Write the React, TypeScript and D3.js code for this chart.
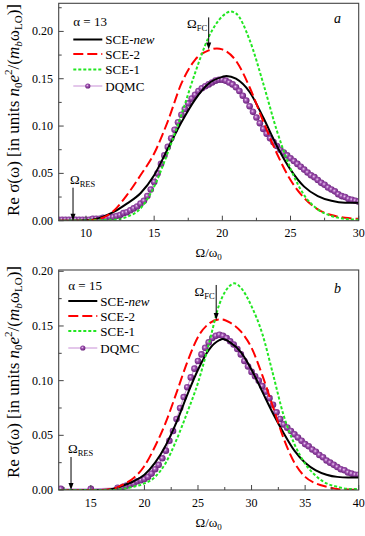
import React from 'react';
import * as d3 from 'd3';

const FONT = '"Liberation Serif", "Times New Roman", Times, serif';
const W = 365;
const H = 536;
const PLOT_L = 58.7;
const PLOT_R = 358.7;

// ---- panel a, alpha = 13 ----
const aNewX = [8, 10, 11, 12, 13, 14, 15, 16, 17, 18, 19, 20, 20.3, 21, 22, 23, 24, 25, 26, 27, 28, 29, 30];
const aNewY = [0, 0.0005, 0.003, 0.009, 0.018, 0.029, 0.048, 0.076, 0.104, 0.128, 0.145, 0.152, 0.153, 0.15, 0.136, 0.109, 0.079, 0.054, 0.036, 0.026, 0.021, 0.019, 0.019];
const aSce2X = [8, 10, 11, 12, 13, 14, 15, 16, 17, 18, 19, 19.6, 20, 21, 22, 23, 24, 25, 26, 27, 28, 29, 30];
const aSce2Y = [0, 0, 0.002, 0.01, 0.027, 0.048, 0.071, 0.105, 0.145, 0.17, 0.18, 0.182, 0.181, 0.169, 0.141, 0.105, 0.071, 0.043, 0.024, 0.012, 0.006, 0.003, 0.002];
const aSce1X = [8, 12, 13, 14, 15, 16, 17, 18, 19, 20, 20.6, 21, 22, 23, 24, 25, 26, 27, 28, 29, 30];
const aSce1Y = [0, 0.001, 0.004, 0.013, 0.036, 0.072, 0.112, 0.156, 0.194, 0.216, 0.221, 0.219, 0.191, 0.145, 0.095, 0.055, 0.027, 0.012, 0.005, 0.002, 0.001];
const aDqmcX = [
  8, 8.25, 8.5, 8.75, 9, 9.25, 9.5, 9.75, 10, 10.25, 10.5, 10.75, 11, 11.25, 11.5, 11.75,
  12, 12.25, 12.5, 12.75, 13, 13.25, 13.5, 13.75, 14, 14.25, 14.5, 14.75, 15, 15.25, 15.5, 15.75,
  16, 16.25, 16.5, 16.75, 17, 17.25, 17.5, 17.75, 18, 18.25, 18.5, 18.75, 19, 19.25, 19.5, 19.75,
  20, 20.25, 20.5, 20.75, 21, 21.25, 21.5, 21.75, 22, 22.25, 22.5, 22.75, 23, 23.25, 23.5, 23.75,
  24, 24.25, 24.5, 24.75, 25, 25.25, 25.5, 25.75, 26, 26.25, 26.5, 26.75, 27, 27.25, 27.5, 27.75,
  28, 28.25, 28.5, 28.75, 29, 29.25, 29.5, 29.75, 30,
];
const aDqmcY = [
  0.001, 0.001, 0.001, 0.001, 0.001, 0.001, 0.001, 0.001, 0.001, 0.001, 0.002, 0.002, 0.002, 0.003, 0.003, 0.004,
  0.004, 0.005, 0.006, 0.008, 0.009, 0.011, 0.013, 0.015, 0.018, 0.021, 0.026, 0.033, 0.041, 0.05, 0.06, 0.069,
  0.078, 0.087, 0.096, 0.104, 0.112, 0.118, 0.124, 0.129, 0.133, 0.137, 0.14, 0.142, 0.144, 0.146, 0.148, 0.149,
  0.149, 0.148, 0.146, 0.144, 0.141, 0.137, 0.132, 0.127, 0.121, 0.115, 0.109, 0.103, 0.097, 0.092, 0.087, 0.083,
  0.079, 0.075, 0.072, 0.069, 0.066, 0.063, 0.06, 0.057, 0.054, 0.051, 0.048, 0.046, 0.043, 0.04, 0.038, 0.035,
  0.033, 0.031, 0.028, 0.026, 0.025, 0.023, 0.022, 0.021, 0.02,
];

// ---- panel b, alpha = 15 ----
const bNewX = [12, 16, 17, 18, 19, 20, 21, 22, 23, 24, 25, 26, 27, 27.3, 28, 29, 30, 31, 32, 33, 34, 35, 36, 37, 38, 39, 40];
const bNewY = [0, 0, 0.001, 0.004, 0.008, 0.014, 0.025, 0.041, 0.062, 0.087, 0.11, 0.128, 0.137, 0.138, 0.135, 0.126, 0.11, 0.09, 0.07, 0.052, 0.036, 0.025, 0.018, 0.014, 0.012, 0.0115, 0.0115];
const bSce2X = [12, 16, 17, 18, 19, 20, 21, 22, 23, 24, 25, 26, 27, 27.2, 28, 29, 30, 31, 32, 33, 34, 35, 36, 37, 38, 39, 40];
const bSce2Y = [0, 0, 0.001, 0.005, 0.011, 0.022, 0.04, 0.062, 0.089, 0.117, 0.14, 0.152, 0.156, 0.156, 0.153, 0.145, 0.13, 0.105, 0.076, 0.047, 0.025, 0.012, 0.006, 0.003, 0.001, 0.0005, 0];
const bSce1X = [12, 17, 18, 19, 20, 21, 22, 23, 24, 25, 26, 27, 28, 28.4, 29, 30, 31, 32, 33, 34, 35, 36, 37, 38, 39, 40];
const bSce1Y = [0, 0, 0.001, 0.003, 0.006, 0.012, 0.025, 0.046, 0.071, 0.098, 0.133, 0.17, 0.187, 0.189, 0.185, 0.168, 0.143, 0.106, 0.068, 0.042, 0.024, 0.013, 0.006, 0.003, 0.001, 0.001];
const bDqmcX = [
  12.2, 15, 17.5,
  18, 18.33, 18.67, 19, 19.33, 19.67, 20, 20.33, 20.67, 21, 21.33, 21.67, 22, 22.33, 22.67,
  23, 23.33, 23.67, 24, 24.33, 24.67, 25, 25.33, 25.67, 26, 26.33, 26.67, 27, 27.33, 27.67,
  28, 28.33, 28.67, 29, 29.33, 29.67, 30, 30.33, 30.67, 31, 31.33, 31.67, 32, 32.33, 32.67,
  33, 33.33, 33.67, 34, 34.33, 34.67, 35, 35.33, 35.67, 36, 36.33, 36.67, 37, 37.33, 37.67,
  38, 38.33, 38.67, 39, 39.33, 39.67, 40,
];
const bDqmcY = [
  0.001, 0.001, 0.002,
  0.003, 0.004, 0.005, 0.006, 0.008, 0.009, 0.01, 0.012, 0.015, 0.019, 0.023, 0.029, 0.036, 0.045, 0.054,
  0.065, 0.075, 0.085, 0.094, 0.103, 0.111, 0.118, 0.124, 0.13, 0.135, 0.139, 0.141, 0.142, 0.141, 0.139,
  0.136, 0.133, 0.129, 0.124, 0.118, 0.113, 0.108, 0.104, 0.1, 0.095, 0.09, 0.084, 0.078, 0.071, 0.065,
  0.06, 0.057, 0.054, 0.051, 0.048, 0.045, 0.042, 0.04, 0.037, 0.035, 0.032, 0.03, 0.027, 0.025, 0.023,
  0.021, 0.019, 0.018, 0.016, 0.015, 0.014, 0.014,
];

// ticks
const aXTicks = [10, 15, 20, 25, 30];
const aXMinor = [12.5, 17.5, 22.5, 27.5];
const bXTicks = [15, 20, 25, 30, 35, 40];
const bXMinor = [12.5, 17.5, 22.5, 27.5, 32.5, 37.5];
const yTicks = [0, 0.05, 0.1, 0.15, 0.2];
const aYMinor = [0.025, 0.075, 0.125, 0.175, 0.225];
const bYMinor = [0.025, 0.075, 0.125, 0.175];

const legendNames = ['SCE-', 'SCE-2', 'SCE-1', 'DQMC'];

const zip = (xs: number[], ys: number[]) => xs.map((v, i) => [v, ys[i]] as [number, number]);

function Ball({ cx, cy }: { cx: number; cy: number }) {
  return <circle cx={cx} cy={cy} r={3.3} fill="url(#ball)" />;
}

function Panel(p: any) {
  const x = d3.scaleLinear().domain(p.xDomain).range([PLOT_L, PLOT_R]);
  const y = d3.scaleLinear().domain([0, p.yMax]).range([p.bottom, p.top]);
  const smooth = d3.line<[number, number]>().x(d => x(d[0])).y(d => y(d[1])).curve(d3.curveMonotoneX);
  const straight = d3.line<[number, number]>().x(d => x(d[0])).y(d => y(d[1]));
  const dq = zip(p.dqmc[0], p.dqmc[1]);
  const clip = `clip-${p.id}`;
  const fcX = x(p.fc[0]);
  const fcTip = y(p.fc[1]);
  const resX = x(p.res);
  const lg = p.legend;

  return (
    <g>
      <clipPath id={clip}>
        <rect x={PLOT_L} y={p.top} width={PLOT_R - PLOT_L} height={p.bottom - p.top} />
      </clipPath>

      <g clipPath={`url(#${clip})`}>
        <path d={straight(dq) || ''} fill="none" stroke="#c88fd6" strokeWidth={1} />
        {dq.map((d, i) => <Ball key={i} cx={x(d[0])} cy={y(d[1])} />)}
        <path d={smooth(zip(p.newc[0], p.newc[1])) || ''} fill="none" stroke="#000" strokeWidth={2} />
        <path d={smooth(zip(p.sce2[0], p.sce2[1])) || ''} fill="none" stroke="#ff0000" strokeWidth={2} strokeDasharray="10,4" />
        <path d={smooth(zip(p.sce1[0], p.sce1[1])) || ''} fill="none" stroke="#22e622" strokeWidth={2} strokeDasharray="3,2" />
      </g>

      <rect x={PLOT_L} y={p.top} width={PLOT_R - PLOT_L} height={p.bottom - p.top} fill="none" stroke="#444" strokeWidth={1.1} />

      {p.xTicks.map((t: number) => (
        <g key={'xt' + t}>
          <line x1={x(t)} x2={x(t)} y1={p.bottom} y2={p.bottom - 5} stroke="#444" />
          <text x={x(t)} y={p.bottom + 16.5} textAnchor="middle" fontSize={12}>{t}</text>
        </g>
      ))}
      {p.xMinor.map((t: number) => (
        <line key={'xm' + t} x1={x(t)} x2={x(t)} y1={p.bottom} y2={p.bottom - 3} stroke="#444" />
      ))}
      {yTicks.map(t => (
        <g key={'yt' + t}>
          <line x1={PLOT_L} x2={PLOT_L + 5} y1={y(t)} y2={y(t)} stroke="#444" />
          <text x={53} y={y(t) + 4} textAnchor="end" fontSize={12}>{d3.format('.2f')(t)}</text>
        </g>
      ))}
      {p.yMinor.map((t: number) => (
        <line key={'ym' + t} x1={PLOT_L} x2={PLOT_L + 3} y1={y(t)} y2={y(t)} stroke="#444" />
      ))}

      {/* axis titles */}
      <text x={(PLOT_L + PLOT_R) / 2} y={p.xLabelY} textAnchor="middle" fontSize={13}>
        Ω/ω<tspan fontSize={9} dy={3}>0</tspan>
      </text>
      <text transform={`translate(19,${p.yLabelY}) rotate(-90)`} textAnchor="middle" fontSize={17}>
        {'Re σ(ω) [in units '}
        <tspan fontStyle="italic">n</tspan>
        <tspan fontSize={11} dy={3}>0</tspan>
        <tspan fontStyle="italic" dy={-3}>e</tspan>
        <tspan fontSize={11} dy={-7}>2</tspan>
        <tspan dy={7}>/(</tspan>
        <tspan fontStyle="italic">m</tspan>
        <tspan fontSize={11} fontStyle="italic" dy={3}>b</tspan>
        <tspan dy={-3}>ω</tspan>
        <tspan fontSize={11} dy={3}>LO</tspan>
        <tspan dy={-3}>)]</tspan>
      </text>

      {/* panel letter */}
      <text x={334} y={p.letterY} fontSize={14} fontStyle="italic">{p.letter}</text>

      {/* Omega_FC arrow */}
      <line x1={fcX} x2={fcX} y1={fcTip - p.fcLen} y2={fcTip - 5} stroke="#000" strokeWidth={1} />
      <polygon points={`${fcX},${fcTip} ${fcX - 2.5},${fcTip - 7} ${fcX + 2.5},${fcTip - 7}`} fill="#000" />
      <text x={fcX - 1.5} y={fcTip - p.fcLen + 11} textAnchor="end" fontSize={13}>
        Ω<tspan fontSize={8.5} dy={3}>FC</tspan>
      </text>

      {/* Omega_RES arrow */}
      <line x1={resX} x2={resX} y1={p.bottom - 33} y2={p.bottom - 5} stroke="#000" strokeWidth={1} />
      <polygon points={`${resX},${p.bottom} ${resX - 2.5},${p.bottom - 7} ${resX + 2.5},${p.bottom - 7}`} fill="#000" />
      <text x={resX - 3} y={p.bottom - 37} fontSize={13}>
        Ω<tspan fontSize={8.5} dy={3}>RES</tspan>
      </text>

      {/* legend */}
      <text x={lg.x} y={lg.alphaY} fontSize={13}>α = {p.alpha}</text>
      {lg.rows.map((ly: number, i: number) => (
        <g key={'lg' + i}>
          {i === 0 && <line x1={lg.x} x2={lg.x + 29} y1={ly} y2={ly} stroke="#000" strokeWidth={2} />}
          {i === 1 && <line x1={lg.x} x2={lg.x + 29} y1={ly} y2={ly} stroke="#ff0000" strokeWidth={2} strokeDasharray="10,4" />}
          {i === 2 && <line x1={lg.x} x2={lg.x + 29} y1={ly} y2={ly} stroke="#22e622" strokeWidth={2} strokeDasharray="3,2" />}
          {i === 3 && (
            <g>
              <line x1={lg.x} x2={lg.x + 29} y1={ly} y2={ly} stroke="#c88fd6" strokeWidth={1} />
              <circle cx={lg.x + 14.5} cy={ly} r={2.6} fill="url(#ball)" />
            </g>
          )}
          <text x={lg.x + 32} y={ly + 4.5} fontSize={13}>
            {legendNames[i]}
            {i === 0 && <tspan fontStyle="italic">new</tspan>}
          </text>
        </g>
      ))}
    </g>
  );
}

export default function App() {
  return (
    <svg width={W} height={H} style={{ position: 'absolute', left: 0, top: 0, background: '#fff', fontFamily: FONT }}>
      <defs>
        <radialGradient id="ball" cx="0.45" cy="0.45" r="0.6" fx="0.4" fy="0.38">
          <stop offset="0" stopColor="#f0d8f4" />
          <stop offset="0.35" stopColor="#a356b4" />
          <stop offset="1" stopColor="#5e1770" />
        </radialGradient>
      </defs>
      <rect width={W} height={H} fill="#fff" />
      <Panel
        id="a" top={3.3} bottom={220.7} xDomain={[8, 30]} yMax={0.2297}
        xTicks={aXTicks} xMinor={aXMinor} yMinor={aYMinor}
        newc={[aNewX, aNewY]} sce2={[aSce2X, aSce2Y]} sce1={[aSce1X, aSce1Y]} dqmc={[aDqmcX, aDqmcY]}
        fc={[19, 0.181]} fcLen={32} res={9.05}
        xLabelY={257} yLabelY={110} letter="a" letterY={23} alpha={13}
        legend={{ x: 73.3, alphaY: 26, rows: [39.5, 54, 69.5, 86] }}
      />
      <Panel
        id="b" top={270} bottom={490} xDomain={[12, 40]} yMax={0.2012}
        xTicks={bXTicks} xMinor={bXMinor} yMinor={bYMinor}
        newc={[bNewX, bNewY]} sce2={[bSce2X, bSce2Y]} sce1={[bSce1X, bSce1Y]} dqmc={[bDqmcX, bDqmcY]}
        fc={[26.7, 0.1555]} fcLen={35} res={13.15}
        xLabelY={527} yLabelY={372} letter="b" letterY={293} alpha={15}
        legend={{ x: 68.3, alphaY: 290, rows: [301, 316, 331, 348] }}
      />
    </svg>
  );
}
